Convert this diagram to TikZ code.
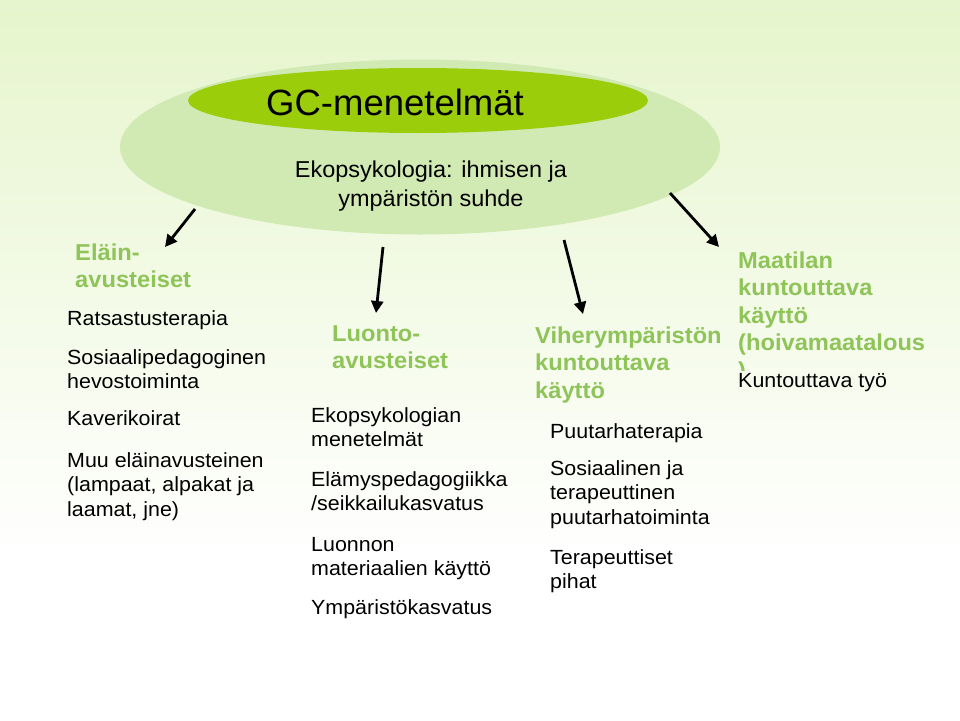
\documentclass[tikz,border=0pt]{standalone}
\usepackage{fontspec}
\setmainfont{Liberation Sans}
\newfontfamily\itemfont[FakeStretch=1.045]{Liberation Sans}
\newfontfamily\headfont[FakeStretch=1.03]{Liberation Sans}
\newfontfamily\subfont[FakeStretch=1.02]{Liberation Sans}
\usetikzlibrary{arrows.meta,shapes.geometric}
\definecolor{bgtop}{RGB}{230,245,204}
\definecolor{outerg}{RGB}{209,233,178}
\definecolor{innerg}{RGB}{155,205,10}
\definecolor{headg}{RGB}{142,196,88}
\definecolor{bgmid}{RGB}{246,251,238}
\begin{document}
\begin{tikzpicture}[x=1pt,y=-1pt,
  head/.style={font=\headfont\fontsize{23}{27.5}\selectfont\bfseries, text=headg, align=left, anchor=base west, inner sep=0pt},
  item/.style={font=\itemfont\fontsize{20.5}{24.5}\selectfont, align=left, anchor=base west, inner sep=0pt},
  arr/.style={line width=2.8pt, -{Triangle[length=12pt,width=12pt]}}]
\useasboundingbox (0,0) rectangle (960,720);
\shade[top color=bgtop, bottom color=white] (0,0) rectangle (960,560);
\fill[white] (0,560) rectangle (960,720);
% ellipses
\node (outer) [ellipse, fill=outerg, minimum width=600pt, minimum height=175pt, inner sep=0pt] at (420,147) {};
\node (inner) [ellipse, fill=innerg, minimum width=460pt, minimum height=65pt, inner sep=0pt] at (418,100.5) {};
\node (title) [anchor=base, inner sep=0pt, font=\fontsize{36.5}{40}\selectfont] at (395,115) {GC-menetelmät};
\node (sub) [anchor=base, inner sep=0pt, align=center, font=\subfont\fontsize{23}{29.5}\selectfont] at (431,206.5) {Ekopsykologia: ihmisen ja\\ympäristön suhde};
% arrows
\coordinate (a1s) at (195,209); \coordinate (a1e) at (165,247);
\coordinate (a2s) at (383,247); \coordinate (a2e) at (376,313);
\coordinate (a3s) at (564,240); \coordinate (a3e) at (583,314);
\coordinate (a4s) at (670,193); \coordinate (a4e) at (719,247);
\draw[arr] (a1s) -- (a1e);
\draw[arr] (a2s) -- (a2e);
\draw[arr] (a3s) -- (a3e);
\draw[arr] (a4s) -- (a4e);
% headings (base anchor = baseline of last line)
\node (h1) [head] at (75,287.5) {Eläin-\\avusteiset};
\node (h2) [head] at (332,368.5) {Luonto-\\avusteiset};
\node (h3) [head] at (535,398) {Viherympäristön\\kuntouttava\\käyttö};
\node (h4) [head] at (738,378) {Maatilan\\kuntouttava\\käyttö\\(hoivamaatalous\\)};
% column 1
\node (c1a) [item] at (67,325) {Ratsastusterapia};
\node (c1b) [item] at (67,388.5) {Sosiaalipedagoginen\\hevostoiminta};
\node (c1c) [item] at (67,425) {Kaverikoirat};
\node (c1d) [item] at (67,516) {Muu eläinavusteinen\\(lampaat, alpakat ja\\laamat, jne)};
% column 2
\node (c2a) [item] at (311,446.5) {Ekopsykologian\\menetelmät};
\node (c2b) [item] at (311,510.5) {Elämyspedagogiikka\\/seikkailukasvatus};
\node (c2c) [item] at (311,575.5) {Luonnon\\materiaalien käyttö};
\node (c2d) [item] at (311,614) {Ympäristökasvatus};
% column 3
\node (c3a) [item] at (550,438) {Puutarhaterapia};
\node (c3b) [item] at (550,524) {Sosiaalinen ja\\terapeuttinen\\puutarhatoiminta};
\node (c3c) [item] at (550,588.5) {Terapeuttiset\\pihat};
% column 4
\node (c4a) [item, fill=bgmid, inner ysep=2pt, inner xsep=1pt] at (737,387) {Kuntouttava työ};
\end{tikzpicture}
\end{document}
